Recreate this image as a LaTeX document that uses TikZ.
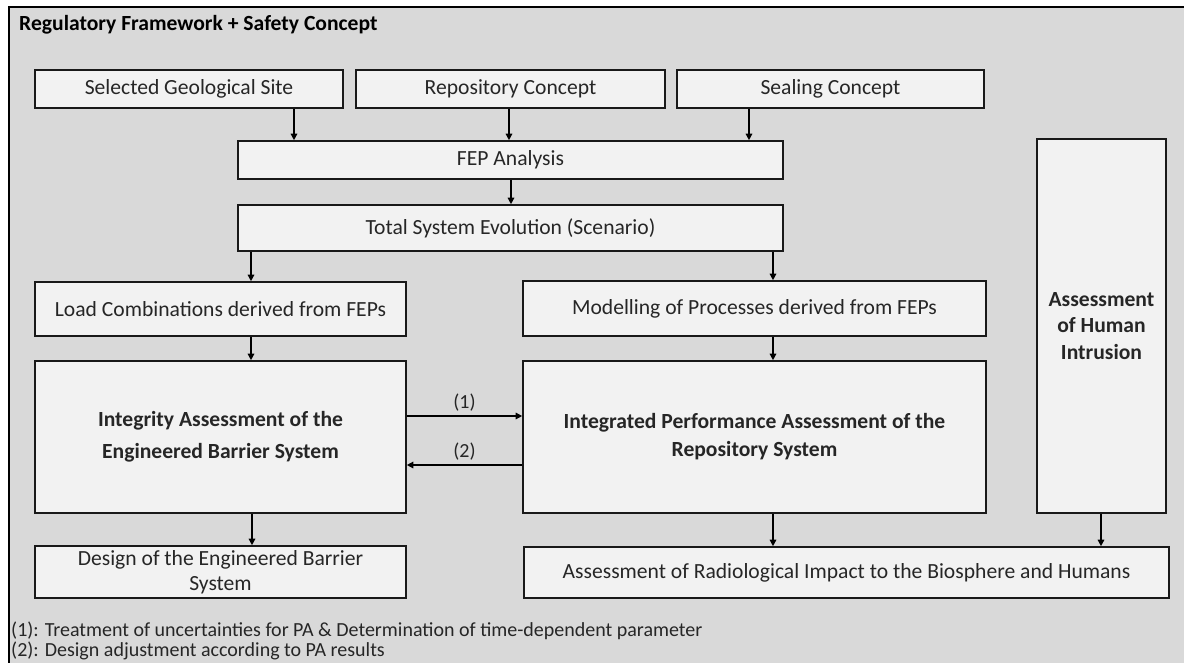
\documentclass[tikz,border=0pt]{standalone}
\usepackage{fontspec}
\setmainfont{Carlito}
\usetikzlibrary{arrows.meta}

\definecolor{bgGray}{HTML}{D9D9D9}
\definecolor{boxFill}{HTML}{F2F2F2}
\definecolor{txtGray}{HTML}{262626}

\tikzset{
  blk/.style={draw=black!90, line width=1.6pt, fill=boxFill, inner sep=0pt,
    align=center, text=txtGray, font=\fontsize{21.6}{26}\selectfont},
  arr/.style={line width=1.4pt, -{Triangle[length=6.5pt,width=6.5pt]}},
  note/.style={anchor=west, inner sep=0pt, text=txtGray, font=\fontsize{20}{22}\selectfont},
}

\begin{document}
\begin{tikzpicture}[x=1pt,y=-1pt]
    \clip (0,0) rectangle (1184,662);
    \fill[white] (0,0) rectangle (1184,662);

    % Rahmen: Regulatory Framework + Safety Concept
    \draw[fill=bgGray, line width=1.6pt] (9,7) rectangle (1200,680);
    \node[anchor=west, inner sep=0pt, text=black, font=\bfseries\fontsize{21.6}{26}\selectfont]
        (frame) at (19,25) {Regulatory Framework + Safety Concept};

    % Eingangsgroessen
    \node[blk, minimum width=308pt, minimum height=38pt] (site) at (189,89) {Selected Geological Site};
    \node[blk, minimum width=309pt, minimum height=38pt] (repo) at (510.5,89) {Repository Concept};
    \node[blk, minimum width=307pt, minimum height=38pt] (seal) at (830.5,89) {Sealing Concept};

    % FEP und Szenario
    \node[blk, minimum width=545pt, minimum height=38pt] (fep) at (510.5,160) {FEP Analysis};
    \node[blk, minimum width=545pt, minimum height=46pt] (tse) at (510.5,228) {Total System Evolution (Scenario)};

    % linker Zweig: Barrieresystem
    \node[blk, minimum width=371pt, minimum height=54pt] (load) at (220.5,309) {Load Combinations derived from FEPs};
    \node[blk, minimum width=371pt, minimum height=152pt, font=\bfseries\fontsize{21.6}{32}\selectfont]
        (integ) at (220.5,437) {Integrity Assessment of the\\Engineered Barrier System};
    \node[blk, minimum width=371pt, minimum height=52pt, font=\fontsize{21.6}{25}\selectfont]
        (design) at (220.5,572) {Design of the Engineered Barrier\\System};

    % rechter Zweig: Performance Assessment
    \node[blk, minimum width=463pt, minimum height=55pt] (model) at (754.5,308.5) {Modelling of Processes derived from FEPs};
    \node[blk, minimum width=463pt, minimum height=152pt, font=\bfseries\fontsize{21.6}{28}\selectfont]
        (pa) at (754.5,437) {Integrated Performance Assessment of the\\Repository System};
    \node[blk, minimum width=645pt, minimum height=51pt] (radio) at (846.5,572.5) {Assessment of Radiological Impact to the Biosphere and Humans};

    % Human Intrusion
    \node[blk, minimum width=129pt, minimum height=374pt, font=\bfseries\fontsize{21.6}{26.5}\selectfont]
        (human) at (1101.5,326) {Assessment\\of Human\\Intrusion};

    % senkrechte Pfeile
    \foreach \from/\to/\xx in {site/fep/294, repo/fep/509, seal/fep/749, fep/tse/511,
        tse/load/251, tse/model/773, load/integ/251, model/pa/773,
        integ/design/252, pa/radio/773, human/radio/1101}
        \draw[arr] (\from.south -| \xx,0) -- (\to.north -| \xx,0);

    % Rueckkopplung (1) und (2)
    \coordinate (y1) at (0,416);
    \coordinate (y2) at (0,465);
    \draw[arr] (integ.east |- y1) -- node[above=1pt, text=txtGray, font=\fontsize{20}{22}\selectfont] {(1)} (pa.west |- y1);
    \draw[arr] (pa.west |- y2) -- node[above=1pt, text=txtGray, font=\fontsize{20}{22}\selectfont] {(2)} (integ.east |- y2);

    % Fussnoten
    \node[note] (note1) at (11,631) {(1): Treatment of uncertainties for PA \& Determination of time-dependent parameter};
    \node[note] (note2) at (11,651) {(2): Design adjustment according to PA results};
\end{tikzpicture}
\end{document}
